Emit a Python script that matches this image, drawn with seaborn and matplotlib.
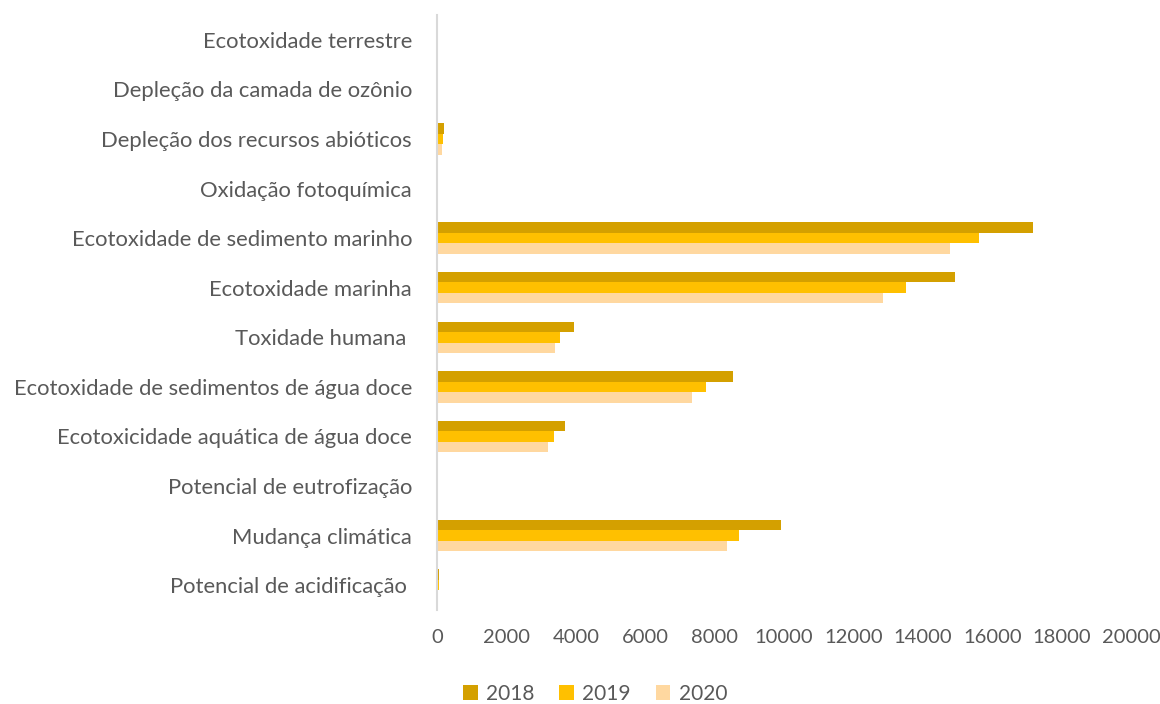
import matplotlib
matplotlib.use("Agg")
import matplotlib.pyplot as plt
import seaborn as sns
import pandas as pd

categories = [
    "Ecotoxidade terrestre",
    "Depleção da camada de ozônio",
    "Depleção dos recursos abióticos",
    "Oxidação fotoquímica",
    "Ecotoxidade de sedimento marinho",
    "Ecotoxidade marinha",
    "Toxidade humana ",
    "Ecotoxidade de sedimentos de água doce",
    "Ecotoxicidade aquática de água doce",
    "Potencial de eutrofização",
    "Mudança climática",
    "Potencial de acidificação ",
]
years = ["2018", "2019", "2020"]
values_2018 = [0, 0, 190, 0, 17190, 14920, 3950, 8520, 3680, 0, 9920, 50]
values_2019 = [0, 0, 160, 0, 15610, 13530, 3540, 7750, 3360, 0, 8690, 45]
values_2020 = [0, 0, 150, 0, 14790, 12860, 3400, 7350, 3190, 0, 8360, 40]
x_ticks = [0, 2000, 4000, 6000, 8000, 10000, 12000, 14000, 16000, 18000, 20000]

colors = ["#D4A000", "#FFC000", "#FFD8A0"]
text_color = "#595959"

df = pd.DataFrame({
    "categoria": categories * 3,
    "ano": [y for y in years for _ in categories],
    "valor": values_2018 + values_2019 + values_2020,
})

sns.set_theme(style="white")
plt.rcParams["font.family"] = ["Lato", "DejaVu Sans"]

fig = plt.figure(figsize=(11.6, 7.04), dpi=100)
ax = fig.add_axes([437 / 1160, 1 - 610 / 704, (1131 - 437) / 1160, (610 - 15) / 704])

sns.barplot(
    data=df, y="categoria", x="valor", hue="ano",
    order=categories, hue_order=years, palette=colors,
    orient="h", width=0.636, ax=ax, errorbar=None,
    saturation=1, linewidth=0,
)

ax.set_xlim(0, 20000)
ax.set_xticks(x_ticks)
ax.set_xticklabels([str(t) for t in x_ticks])
ax.set_xlabel("")
ax.set_ylabel("")
for side in ["top", "right", "bottom"]:
    ax.spines[side].set_visible(False)
ax.spines["left"].set_color("#D9D9D9")
ax.spines["left"].set_linewidth(1.5)
ax.tick_params(axis="both", length=0, labelcolor=text_color)
ax.tick_params(axis="y", pad=18, labelsize=15.8)
ax.tick_params(axis="x", pad=14, labelsize=14.5)

leg = ax.legend(
    loc="center", bbox_to_anchor=(595 / 1160, 1 - 694 / 704),
    bbox_transform=fig.transFigure, ncol=3, frameon=False,
    fontsize=15, handlelength=0.7, handleheight=0.7,
    handletextpad=0.4, columnspacing=1.2,
)
for t in leg.get_texts():
    t.set_color(text_color)

fig.savefig("out.png", dpi=100)
